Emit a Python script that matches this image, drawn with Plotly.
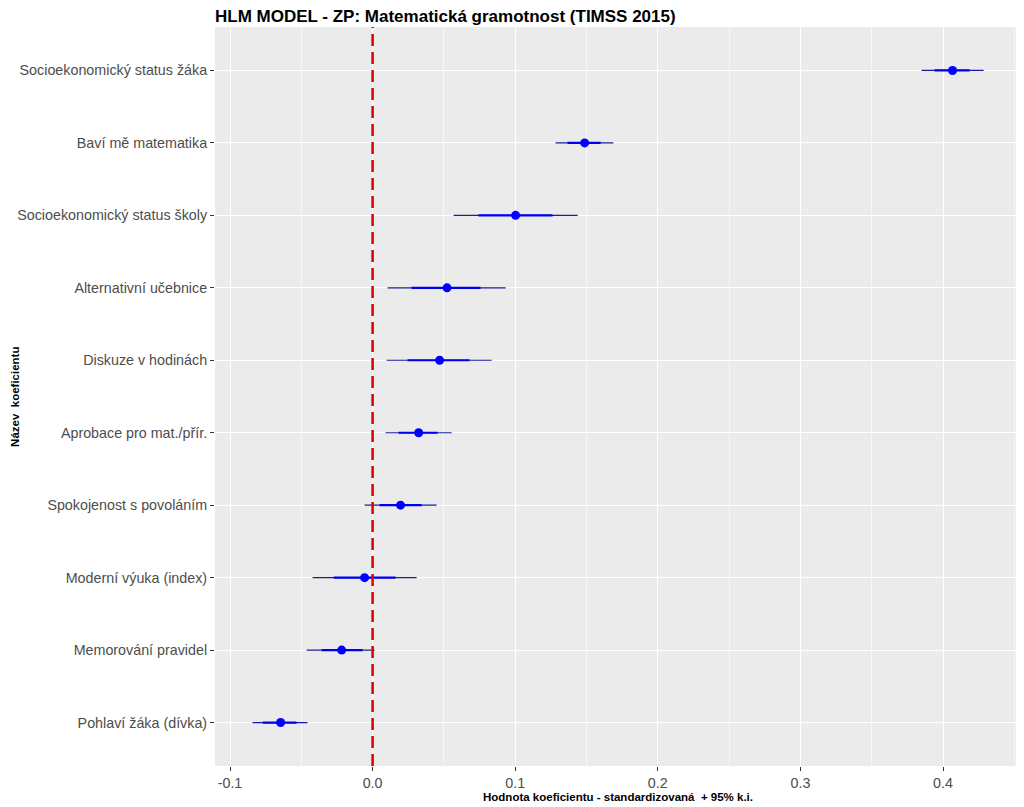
import plotly.graph_objects as go

# Data (top to bottom as shown)
categories = [
    "Socioekonomický status žáka",
    "Baví mě matematika",
    "Socioekonomický status školy",
    "Alternativní učebnice",
    "Diskuze v hodinách",
    "Aprobace pro mat./přír.",
    "Spokojenost s povoláním",
    "Moderní výuka (index)",
    "Memorování pravidel",
    "Pohlaví žáka (dívka)",
]
estimate = [0.4067, 0.1487, 0.1003, 0.0522, 0.0470, 0.0323, 0.0196, -0.0056, -0.0217, -0.0645]
ci95_low = [0.3850, 0.1283, 0.0568, 0.0105, 0.0098, 0.0091, -0.0056, -0.0421, -0.0463, -0.0842]
ci95_high = [0.4285, 0.1688, 0.1438, 0.0933, 0.0835, 0.0554, 0.0449, 0.0309, 0.0014, -0.0456]
inner_low = [0.3941, 0.1367, 0.0743, 0.0273, 0.0245, 0.0182, 0.0049, -0.0273, -0.0358, -0.0771]
inner_high = [0.4187, 0.1599, 0.1262, 0.0757, 0.0680, 0.0456, 0.0344, 0.0161, -0.0070, -0.0533]

title = "HLM MODEL - ZP: Matematická gramotnost (TIMSS 2015)"
x_title = "Hodnota koeficientu - standardizovaná  + 95% k.i."
y_title = "Název  koeficientu"
x_ticks = [-0.1, 0.0, 0.1, 0.2, 0.3, 0.4]
x_tick_labels = ["-0.1", "0.0", "0.1", "0.2", "0.3", "0.4"]

order_bottom_up = categories[::-1]

def segs(lo, hi):
    xs, ys = [], []
    for c, a, b in zip(categories, lo, hi):
        xs += [a, b, None]
        ys += [c, c, None]
    return xs, ys

fig = go.Figure()

xs, ys = segs(ci95_low, ci95_high)
fig.add_trace(go.Scatter(x=xs, y=ys, mode="lines",
                         line=dict(color="#1c1c99", width=1.2),
                         hoverinfo="skip", showlegend=False))
xs, ys = segs(inner_low, inner_high)
fig.add_trace(go.Scatter(x=xs, y=ys, mode="lines",
                         line=dict(color="#0000ee", width=2.2),
                         hoverinfo="skip", showlegend=False))
fig.add_trace(go.Scatter(x=estimate, y=categories, mode="markers",
                         marker=dict(color="#0000ff", size=9),
                         showlegend=False))

fig.add_shape(type="line", x0=0, x1=0, xref="x", y0=0, y1=1, yref="paper",
              line=dict(color="#e00000", width=2.5, dash="12px,6px"))

axis_common = dict(
    showline=False, zeroline=False, automargin=False,
    gridcolor="#ffffff", gridwidth=1.2,
    ticks="outside", ticklen=4, tickcolor="#333333", tickwidth=1,
    tickfont=dict(family="Liberation Sans, Arial, sans-serif", size=14.3, color="#4d4d4d"),
)

# The page body has an 8px default margin; the figure is sized/offset to compensate.
W, H = 1016, 799
fig.update_layout(
    width=W, height=H,
    margin=dict(l=207, r=4, t=19, b=41, autoexpand=False),
    paper_bgcolor="#ffffff",
    plot_bgcolor="#ebebeb",
    title=dict(text="<b>" + title + "</b>", x=207 / W, xanchor="left",
               y=1 - 8 / H, yanchor="middle", automargin=False,
               font=dict(family="Liberation Sans, Arial, sans-serif", size=17, color="#000000")),
    xaxis=dict(range=[-0.11052, 0.4540], tickvals=x_ticks, ticktext=x_tick_labels,
               minor=dict(dtick=0.05, tick0=0.05, gridcolor="#f7f7f7", gridwidth=0.6, showgrid=True, ticks=""),
               **axis_common),
    yaxis=dict(type="category", categoryorder="array", categoryarray=order_bottom_up,
               range=[-0.6, 9.6], **axis_common),
    annotations=[
        dict(text="<b>" + x_title + "</b>", xref="paper", yref="paper", x=0.5, y=-0.042,
             xanchor="center", yanchor="middle", showarrow=False,
             font=dict(family="Liberation Sans, Arial, sans-serif", size=11.5, color="#000000")),
        dict(text="<b>" + y_title + "</b>", xref="paper", yref="paper", x=-0.2492, y=0.5,
             xanchor="center", yanchor="middle", textangle=-90, showarrow=False,
             font=dict(family="Liberation Sans, Arial, sans-serif", size=11.5, color="#000000")),
    ],
)

fig.write_html("out.html")
